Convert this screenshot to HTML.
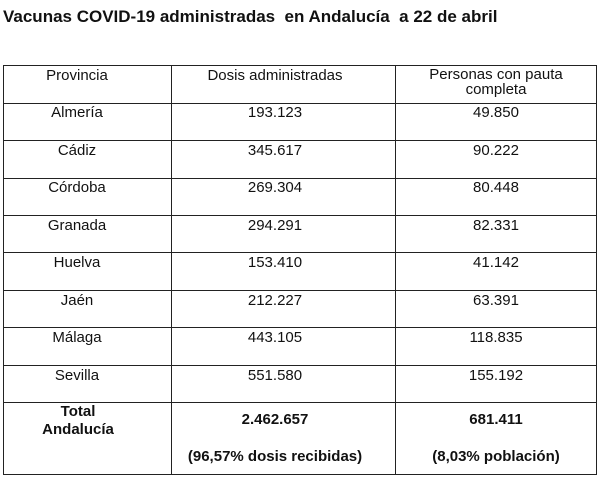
<!DOCTYPE html><html><head><meta charset="utf-8"><style>
body{margin:0;width:601px;height:478px;background:#fff;position:relative;font-family:"Liberation Sans",Arial,sans-serif;color:#111;overflow:hidden}
.t{position:absolute;left:3px;top:7px;font-size:17px;font-weight:bold;white-space:pre}
.h{position:absolute;background:#222;height:1px;left:3px;width:594px}
.v{position:absolute;background:#222;width:1px;top:65px;height:410px}
.c{position:absolute;font-size:15px;text-align:center;line-height:17px;white-space:nowrap}
.b{font-weight:bold}
.a{left:27px;width:100px}.d{left:175px;width:200px}.p{left:396px;width:200px}
</style></head><body>
<div class="t">Vacunas COVID-19 administradas  en Andalucía  a 22 de abril</div>
<div class="h" style="top:65px"></div>
<div class="h" style="top:103px"></div>
<div class="h" style="top:140px"></div>
<div class="h" style="top:178px"></div>
<div class="h" style="top:215px"></div>
<div class="h" style="top:252px"></div>
<div class="h" style="top:290px"></div>
<div class="h" style="top:327px"></div>
<div class="h" style="top:365px"></div>
<div class="h" style="top:402px"></div>
<div class="h" style="top:474px"></div>
<div class="v" style="left:3px"></div>
<div class="v" style="left:171px"></div>
<div class="v" style="left:395px"></div>
<div class="v" style="left:596px"></div>

<div class="c a" style="top:67px">Provincia</div>
<div class="c d" style="top:67px">Dosis administradas</div>
<div class="c p" style="top:67px;line-height:15px">Personas con pauta<br>completa</div>

<div class="c a" style="top:104px">Almería</div><div class="c d" style="top:104px">193.123</div><div class="c p" style="top:104px">49.850</div>
<div class="c a" style="top:142px">Cádiz</div><div class="c d" style="top:142px">345.617</div><div class="c p" style="top:142px">90.222</div>
<div class="c a" style="top:179px">Córdoba</div><div class="c d" style="top:179px">269.304</div><div class="c p" style="top:179px">80.448</div>
<div class="c a" style="top:217px">Granada</div><div class="c d" style="top:217px">294.291</div><div class="c p" style="top:217px">82.331</div>
<div class="c a" style="top:254px">Huelva</div><div class="c d" style="top:254px">153.410</div><div class="c p" style="top:254px">41.142</div>
<div class="c a" style="top:292px">Jaén</div><div class="c d" style="top:292px">212.227</div><div class="c p" style="top:292px">63.391</div>
<div class="c a" style="top:329px">Málaga</div><div class="c d" style="top:329px">443.105</div><div class="c p" style="top:329px">118.835</div>
<div class="c a" style="top:367px">Sevilla</div><div class="c d" style="top:367px">551.580</div><div class="c p" style="top:367px">155.192</div>

<div class="c b" style="left:3px;width:150px;top:403px;line-height:18px">Total<br>Andalucía</div>
<div class="c b d" style="top:411px">2.462.657</div>
<div class="c b p" style="top:411px">681.411</div>
<div class="c b d" style="top:448px">(96,57% dosis recibidas)</div>
<div class="c b p" style="top:448px">(8,03% población)</div>
</body></html>
